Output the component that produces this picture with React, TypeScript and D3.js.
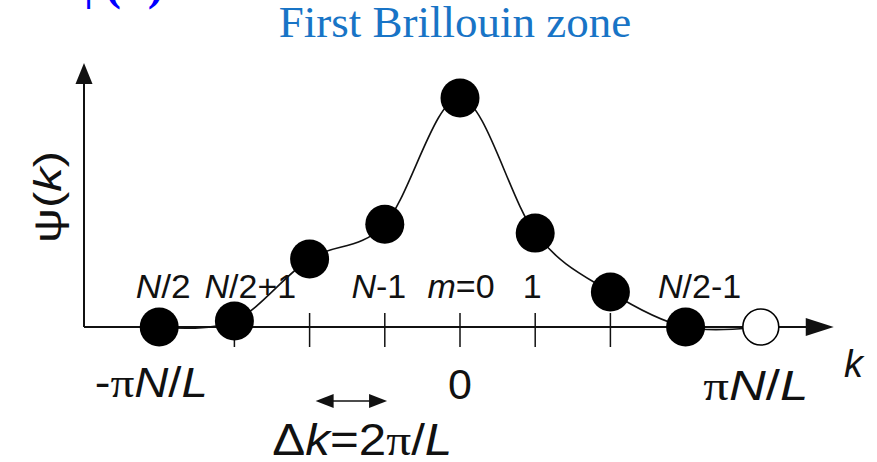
import React from "react";
import * as d3 from "d3";

// Mode indices m across the first Brillouin zone (-N/2 … N/2) and the
// amplitude psi(k) sampled at each of them.
const modeIndex = [-4, -3, -2, -1, 0, 1, 2, 3, 4];
const psiValues = [0, 0.026, 0.297, 0.449, 1.0, 0.41, 0.153, 0, 0];
// The last sample (k = +πN/L) is the same state as k = -πN/L: drawn hollow.
const hollowIndex = [4];
const tickIndex = [-3, -2, -1, 0, 1, 2];

const W = 877;
const H = 462;
const INK = "#111";
const SANS = "'Liberation Sans', Arial, Helvetica, sans-serif";
const SERIF = "'Liberation Serif', 'Times New Roman', serif";

export default function App() {
  const x = d3.scaleLinear().domain([-5, 5]).range([84, 836]);
  const y = d3.scaleLinear().domain([0, 1]).range([327, 98]);

  const pts = modeIndex.map((m, i) => [x(m), y(psiValues[i])] as [number, number]);
  const curve = d3.line().curve(d3.curveCardinal.tension(0))(pts) || "";

  const x0 = x(-5);
  const y0 = y(0);
  const yTop = y(1.153);
  const xEnd = x(4.97);

  const arrowL = x(-1.92);
  const arrowR = x(-0.97);
  const arrowY = 401;

  const labelAbove = 298;
  const labelBelow = 397;

  return (
    <svg
      width={W}
      height={H}
      viewBox={`0 0 ${W} ${H}`}
      style={{ position: "absolute", left: 0, top: 0, background: "#fff" }}
    >
      {/* heading */}
      <text x={72} y={-1} fontFamily={SERIF} fontWeight="bold" fontSize={48} fill="#0000ff">
        ψ(k)
      </text>
      <text x={455} y={37} textAnchor="middle" fontFamily={SERIF} fontSize={45} fill="#1874c6">
        First Brillouin zone
      </text>

      {/* axes */}
      <line x1={x0} y1={y0} x2={xEnd - 20} y2={y0} stroke={INK} strokeWidth={2} />
      <path
        d={`M${xEnd},${y0} L${xEnd - 28},${y0 - 9} L${xEnd - 28},${y0 + 9} Z`}
        fill={INK}
      />
      <line x1={x0} y1={y0} x2={x0} y2={yTop + 15} stroke={INK} strokeWidth={2} />
      <path
        d={`M${x0},${yTop} L${x0 - 8.5},${yTop + 21} L${x0 + 8.5},${yTop + 21} Z`}
        fill={INK}
      />
      {tickIndex.map((m) => (
        <line key={m} x1={x(m)} x2={x(m)} y1={y0 - 14} y2={y0 + 20} stroke={INK} strokeWidth={1.5} />
      ))}

      {/* axis titles */}
      <text
        transform={`translate(51,197) rotate(-90)`}
        textAnchor="middle"
        fontFamily={SANS}
        fontSize={38}
        fill={INK}
        dominantBaseline="middle"
        textLength={92}
        lengthAdjust="spacingAndGlyphs"
      >
        ψ(<tspan fontStyle="italic">k</tspan>)
      </text>
      <text x={844} y={377} fontFamily={SANS} fontStyle="italic" fontSize={38} fill={INK}>
        k
      </text>

      {/* mode labels above the axis */}
      <g fontFamily={SANS} fontSize={34} fill={INK} textAnchor="middle">
        <text x={x(-4) + 4} y={labelAbove} textLength={55} lengthAdjust="spacingAndGlyphs">
          <tspan fontStyle="italic">N</tspan>/2
        </text>
        <text x={x(-3) + 16} y={labelAbove}>
          <tspan fontStyle="italic">N</tspan>/2+1
        </text>
        <text x={x(-1) - 6} y={labelAbove}>
          <tspan fontStyle="italic">N</tspan>-1
        </text>
        <text x={x(0) + 1} y={labelAbove}>
          <tspan fontStyle="italic">m</tspan>=0
        </text>
        <text x={x(1) - 3} y={labelAbove}>1</text>
        <text x={x(3) + 14} y={labelAbove}>
          <tspan fontStyle="italic">N</tspan>/2-1
        </text>
      </g>

      {/* k values below the axis */}
      <g fontFamily={SANS} fontSize={43} fill={INK} textAnchor="middle">
        <text x={x(-4) - 8} y={labelBelow} textLength={113} lengthAdjust="spacingAndGlyphs">
          -<tspan fontFamily={SERIF}>π</tspan>
          <tspan fontStyle="italic">N</tspan>/<tspan fontStyle="italic">L</tspan>
        </text>
        <text x={x(0)} y={labelBelow + 2}>0</text>
        <text x={x(4) - 5} y={labelBelow + 3} textLength={105} lengthAdjust="spacingAndGlyphs">
          <tspan fontFamily={SERIF}>π</tspan>
          <tspan fontStyle="italic">N</tspan>/<tspan fontStyle="italic">L</tspan>
        </text>
      </g>

      {/* spacing between neighbouring modes */}
      <line x1={arrowL + 14} y1={arrowY} x2={arrowR - 14} y2={arrowY} stroke={INK} strokeWidth={1.5} />
      <path d={`M${arrowL},${arrowY} L${arrowL + 18},${arrowY - 7} L${arrowL + 18},${arrowY + 7} Z`} fill={INK} />
      <path d={`M${arrowR},${arrowY} L${arrowR - 18},${arrowY - 7} L${arrowR - 18},${arrowY + 7} Z`} fill={INK} />
      <text
        x={(arrowL + arrowR) / 2 + 11}
        y={455}
        textAnchor="middle"
        fontFamily={SANS}
        fontSize={44}
        fill={INK}
        textLength={180}
        lengthAdjust="spacingAndGlyphs"
      >
        Δ<tspan fontStyle="italic">k</tspan>=2<tspan fontFamily={SERIF}>π</tspan>/
        <tspan fontStyle="italic">L</tspan>
      </text>

      {/* interpolated wave function */}
      <path d={curve} fill="none" stroke={INK} strokeWidth={1.6} />

      {/* sampled modes */}
      {pts.map(([px, py], i) => {
        const hollow = hollowIndex.includes(modeIndex[i]);
        return (
          <circle
            key={modeIndex[i]}
            cx={px}
            cy={py}
            r={hollow ? 18 : 19.5}
            fill={hollow ? "#fff" : "#000"}
            stroke="#000"
            strokeWidth={hollow ? 1.6 : 0}
          />
        );
      })}
    </svg>
  );
}
